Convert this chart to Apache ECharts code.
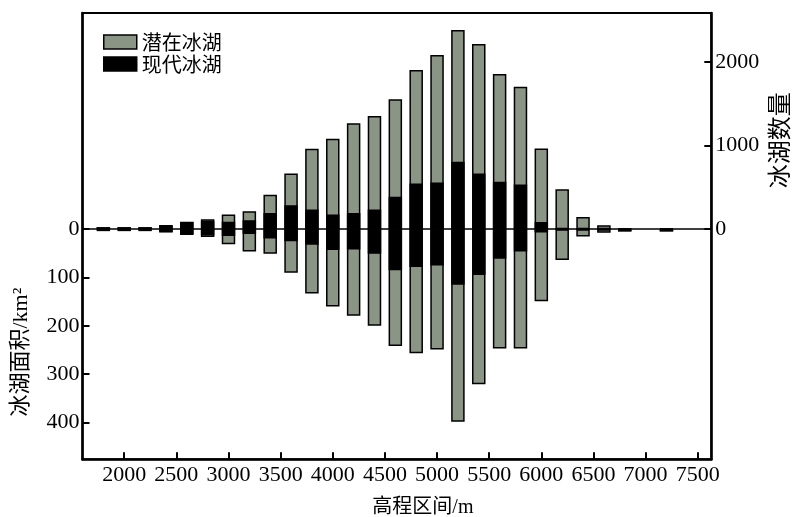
<!DOCTYPE html>
<html>
<head>
<meta charset="utf-8">
<script src="https://cdn.jsdelivr.net/npm/echarts@6/dist/echarts.min.js"></script>
<style>html,body{margin:0;padding:0;background:#fff;}#c{width:792px;height:517px;}</style>
</head>
<body>
<div id="c"></div>
<script>
// elevation bin centres (m)
var bins = [1800,2000,2200,2400,2600,2800,3000,3200,3400,3600,3800,4000,4200,4400,4600,4800,5000,5200,5400,5600,5800,6000,6200,6400,6600,6800,7200];
// lake counts (right axis)
var potentialCount = [25,25,25,50,88,118,176,216,411,667,962,1082,1266,1353,1553,1904,2084,2383,2216,1856,1704,966,477,147,48,6,6];
var presentCount   = [22,22,22,48,86,100,88,108,195,287,236,176,195,236,387,547,559,806,667,567,535,87,0,0,0,4,4];
// lake area km2 (left axis, downward)
var potentialArea = [4,4,4,7,12,16,31,46,51,90,133,160,179,200,242,257,249,399,321,247,247,149,64,15,7.5,5,5];
var presentArea   = [3,3,3,6,11,13,14,10,19,25,32,43,42,51,85,78,75,115,95,61,46,7,0,0,0,4,4];
// tick labels
var xTicks = [2000,2500,3000,3500,4000,4500,5000,5500,6000,6500,7000,7500];
var areaTicks = [0,100,200,300,400];
var countTicks = [0,1000,2000];

var GRAY = '#8a9585';
function pairs(vals){ return bins.map(function(b,i){ return [b, vals[i]]; }); }
function plain(v){ return String(v); }

var serif = '"Liberation Serif", serif';
var mixed = '"Liberation Serif", "Noto Sans CJK SC", serif';

var chart = echarts.init(document.getElementById('c'), null, {renderer:'canvas'});
var option = {
  animation: false,
  backgroundColor: '#fff',
  grid: {left: 82.5, right: 80.7, top: 13, bottom: 57.7, containLabel: false, outerBoundsMode: 'none',
         show: true, borderColor: '#000', borderWidth: 2, backgroundColor: 'transparent'},
  legend: {
    orient: 'vertical', left: 103, top: 32, padding: 0, itemWidth: 33, itemHeight: 14, itemGap: 2,
    textStyle: {fontFamily: '"Noto Sans CJK SC"', fontSize: 20, color: '#000'},
    data: [
      {name: '潜在冰湖', icon: 'rect', itemStyle: {color: GRAY, borderColor: '#000', borderWidth: 1.5}},
      {name: '现代冰湖', icon: 'rect', itemStyle: {color: '#000', borderColor: '#000', borderWidth: 1.5}}
    ]
  },
  xAxis: {
    type: 'value', min: 1600, max: 7630,
    name: '高程区间/m', nameLocation: 'middle', nameGap: 38,
    nameTextStyle: {fontFamily: mixed, fontSize: 20, color: '#000', padding: [0,0,0,52]},
    axisLine: {onZero: false, lineStyle: {color: '#000', width: 2.5}},
    axisTick: {inside: true, length: 7, lineStyle: {color: '#000', width: 2}, customValues: xTicks},
    axisLabel: {fontFamily: serif, fontSize: 22, color: '#000', margin: 5, customValues: xTicks, formatter: plain},
    splitLine: {show: false}
  },
  yAxis: [
    {
      type: 'value', inverse: true, min: -447.9, max: 476.6, position: 'left',
      name: '冰湖面积/km²', nameLocation: 'middle', nameRotate: 90, nameGap: 50,
      nameTextStyle: {fontFamily: mixed, fontSize: 22, color: '#000', padding: [0,232,0,0]},
      axisLine: {onZero: false, lineStyle: {color: '#000', width: 2.5}},
      axisTick: {inside: true, length: 7, lineStyle: {color: '#000', width: 2}, customValues: areaTicks},
      axisLabel: {fontFamily: serif, fontSize: 22, color: '#000', margin: 3, customValues: areaTicks, formatter: plain},
      splitLine: {show: false}
    },
    {
      type: 'value', min: -2752, max: 2586, position: 'right',
      name: '冰湖数量', nameLocation: 'middle', nameRotate: 90, nameGap: 55,
      nameTextStyle: {fontFamily: mixed, fontSize: 24, color: '#000', padding: [0,0,0,192]},
      axisLine: {onZero: false, lineStyle: {color: '#000', width: 2.5}},
      axisTick: {inside: true, length: 7, lineStyle: {color: '#000', width: 2}, customValues: countTicks},
      axisLabel: {fontFamily: serif, fontSize: 22, color: '#000', margin: 4, customValues: countTicks, formatter: plain},
      splitLine: {show: false}
    }
  ],
  series: [
    {name: '潜在冰湖', type: 'bar', yAxisIndex: 1, data: pairs(potentialCount), barWidth: 13.5, barGap: '-100%',
     itemStyle: {color: GRAY, borderColor: '#000', borderWidth: 1.5},
     markLine: {silent: true, symbol: 'none', label: {show: false}, lineStyle: {color: '#000', width: 1.5, type: 'solid'}, data: [{yAxis: 0}]}},
    {name: '潜在冰湖', type: 'bar', yAxisIndex: 0, data: pairs(potentialArea), barWidth: 13.5, barGap: '-100%',
     itemStyle: {color: GRAY, borderColor: '#000', borderWidth: 1.5}},
    {name: '现代冰湖', type: 'bar', yAxisIndex: 1, data: pairs(presentCount), barWidth: 13.5, barGap: '-100%',
     itemStyle: {color: '#000', borderColor: '#000', borderWidth: 1.5}},
    {name: '现代冰湖', type: 'bar', yAxisIndex: 0, data: pairs(presentArea), barWidth: 13.5, barGap: '-100%',
     itemStyle: {color: '#000', borderColor: '#000', borderWidth: 1.5}}
  ]
};
chart.setOption(option);
</script>
</body>
</html>
